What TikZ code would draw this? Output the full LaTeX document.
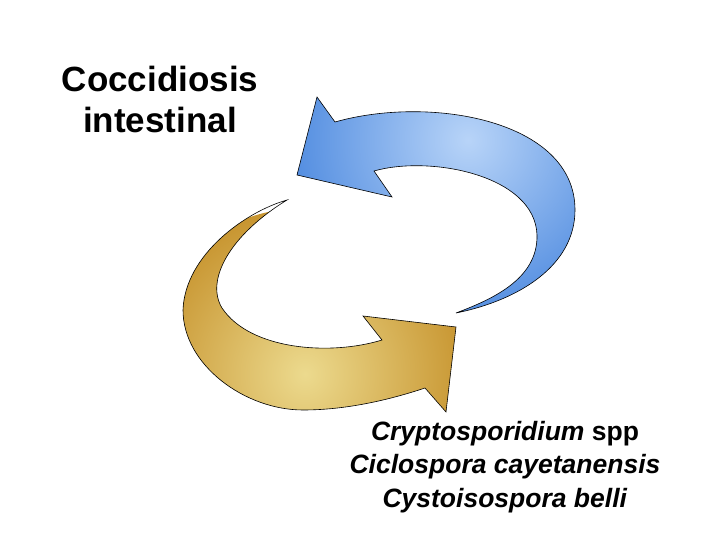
\documentclass[tikz,border=0pt]{standalone}
\usepackage{fontspec}
\setmainfont{Liberation Sans}
\usepackage{tikz}
\usetikzlibrary{calc}

\definecolor{bluedark}{RGB}{72,134,222}
\definecolor{bluelight}{RGB}{184,212,248}
\definecolor{golddark}{RGB}{198,146,44}
\definecolor{goldlight}{RGB}{236,218,142}

\tikzset{
  cyclearrow/.style={draw=black, line width=0.6pt, line join=miter},
  bluearrow/.style={cyclearrow, path picture={\shade[inner color=bluelight, outer color=bluedark] (468,140) circle (195pt);}},
  goldarrow/.style={cyclearrow, path picture={\shade[inner color=goldlight, outer color=golddark] (305,378) circle (170pt);}},
  bigtext/.style={font=\fontsize{35}{41}\selectfont\bfseries, align=center},
  listtext/.style={font=\fontsize{26.5}{33.5}\selectfont\bfseries, align=center}
}

\begin{document}
\begin{tikzpicture}[x=1pt,y=-1pt]
        \useasboundingbox (0,0) rectangle (720,540);

        % blue arrow, pointing to the left
        \path[bluearrow] (317,97) -- (335,122)
            .. controls (430,95) and (575,120) .. (575,210)
            .. controls (575,265) and (520,300) .. (456,313)
            .. controls (490,300) and (538,280) .. (537,235)
            .. controls (535,175) and (430,155) .. (374,171)
            -- (392,197) -- (297,175) -- cycle;

        % gold arrow, pointing to the right
        \path[goldarrow] (287,200)
            .. controls (245,212) and (185,255) .. (183,310)
            .. controls (183,365) and (245,410) .. (303,410)
            .. controls (350,410) and (395,398) .. (425,388)
            -- (446,412) -- (456,327) -- (363,316) -- (382,340)
            .. controls (330,356) and (250,350) .. (222,308)
            .. controls (205,280) and (230,235) .. (287,200)
            -- cycle;

        \node[bigtext, anchor=base] (disease) at (160,133) {Coccidiosis\\intestinal};
        \node[listtext, anchor=base] (agents) at (505,507) {\textit{Cryptosporidium} spp\\\textit{Ciclospora cayetanensis}\\\textit{Cystoisospora belli}};
\end{tikzpicture}
\end{document}
